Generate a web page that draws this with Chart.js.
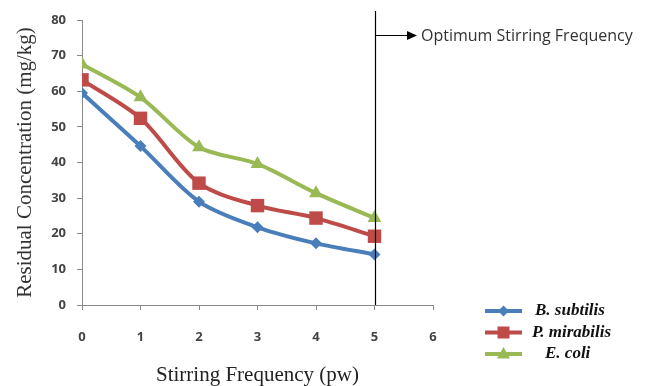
<!DOCTYPE html>
<html>
<head>
<meta charset="utf-8">
<script src="https://cdn.jsdelivr.net/npm/chart.js@4"></script>
<style>
html,body{margin:0;padding:0;background:#fff;}
#wrap{width:651px;height:386px;position:relative;}
</style>
</head>
<body>
<div id="wrap"><canvas id="c" width="651" height="386"></canvas></div>
<script>
const frequencies = [0, 1, 2, 3, 4, 5];
const bSubtilis   = [59.5, 44.6, 29.0, 21.8, 17.3, 14.2];
const pMirabilis  = [63.2, 52.4, 34.2, 27.9, 24.4, 19.3];
const eColi       = [67.6, 58.3, 44.3, 39.6, 31.4, 24.4];
const seriesNames = ['B. subtilis', 'P. mirabilis', 'E. coli'];
const yTicks = [0, 10, 20, 30, 40, 50, 60, 70, 80];
const xTicks = [0, 1, 2, 3, 4, 5, 6];
const optimumX = 5;
const optimumLabel = 'Optimum Stirring Frequency';

const colors = ['#4A7EBB', '#BE4B48', '#98B954'];
const styles = ['rectRot', 'rect', 'triangle'];
const radii = [6, 9.5, 8];

function pts(arr){ return frequencies.map((f,i)=>({x:f,y:arr[i]})); }

const seriesData = [bSubtilis, pMirabilis, eColi];

const overlay = {
  id:'overlay',
  afterDatasetsDraw(chart){
    const ctx = chart.ctx;
    const xs = chart.scales.x;
    const ca = chart.chartArea;
    const px = Math.round(xs.getPixelForValue(optimumX)) + 0.5;
    ctx.save();
    ctx.strokeStyle = '#000';
    ctx.lineWidth = 1.2;
    ctx.beginPath();
    ctx.moveTo(px, 11);
    ctx.lineTo(px, ca.bottom);
    ctx.stroke();
    // arrow
    ctx.beginPath();
    ctx.moveTo(px, 35.5);
    ctx.lineTo(409, 35.5);
    ctx.stroke();
    ctx.fillStyle = '#000';
    ctx.beginPath();
    ctx.moveTo(417, 35.5);
    ctx.lineTo(407, 31);
    ctx.lineTo(407, 40);
    ctx.closePath();
    ctx.fill();
    ctx.fillStyle = '#333';
    ctx.font = '16px "Open Sans", sans-serif';
    ctx.textBaseline = 'middle';
    ctx.textAlign = 'left';
    ctx.fillText(optimumLabel, 421, 36);
    // legend
    const ly = [311, 332.5, 354];
    const tx = [535, 532, 545];
    for (let i=0;i<3;i++){
      ctx.strokeStyle = colors[i];
      ctx.lineWidth = 4;
      ctx.beginPath();
      ctx.moveTo(485, ly[i]);
      ctx.lineTo(522, ly[i]);
      ctx.stroke();
      ctx.fillStyle = colors[i];
      const cx = 503.5, cy = ly[i];
      ctx.beginPath();
      if (i===0){ ctx.moveTo(cx,cy-5.5);ctx.lineTo(cx+5.5,cy);ctx.lineTo(cx,cy+5.5);ctx.lineTo(cx-5.5,cy); }
      else if (i===1){ ctx.rect(cx-6,cy-6,12,12); }
      else { ctx.moveTo(cx,cy-7);ctx.lineTo(cx+6.5,cy+4.5);ctx.lineTo(cx-6.5,cy+4.5); }
      ctx.closePath(); ctx.fill();
      ctx.fillStyle = '#111';
      ctx.font = 'italic bold 17px "Liberation Serif", serif';
      ctx.textBaseline = 'middle';
      ctx.fillText(seriesNames[i], tx[i], ly[i]);
    }
    ctx.restore();
  }
};

new Chart(document.getElementById('c'), {
  type:'line',
  data:{
    datasets: seriesData.map((d,i)=>({
      label: seriesNames[i],
      data: pts(d),
      borderColor: colors[i],
      backgroundColor: colors[i],
      borderWidth: 4,
      pointStyle: styles[i],
      pointRadius: radii[i],
      pointHoverRadius: radii[i],
      pointBorderWidth: 0,
      tension: 0.3,
      cubicInterpolationMode: 'default',
      fill:false
    }))
  },
  options:{
    responsive:false,
    animation:false,
    events:[],
    layout:{padding:{top:20,right:218,left:0,bottom:0}},
    plugins:{legend:{display:false},tooltip:{enabled:false}},
    scales:{
      x:{
        type:'linear', min:0, max:6,
        afterBuildTicks(s){ s.ticks = xTicks.map(v=>({value:v})); },
        afterFit(s){ s.height = 81; },
        grid:{display:true, drawOnChartArea:false, drawTicks:true, tickLength:5, color:'#8a8a8a'},
        border:{color:'#8a8a8a', width:1},
        ticks:{color:'#444', font:{family:'"Open Sans", sans-serif', size:13, weight:'bold'}, padding:19},
        title:{display:true, text:'Stirring Frequency (pw)', color:'#222', font:{family:'"Liberation Serif", serif', size:21, lineHeight:1}, padding:{top:0,bottom:0}}
      },
      y:{
        min:0, max:80,
        afterBuildTicks(s){ s.ticks = yTicks.map(v=>({value:v})); },
        afterFit(s){ s.width = 82; },
        grid:{display:true, drawOnChartArea:false, drawTicks:true, tickLength:5, color:'#8a8a8a'},
        border:{color:'#8a8a8a', width:1},
        ticks:{color:'#444', font:{family:'"Open Sans", sans-serif', size:13, weight:'bold'}, padding:11},
        title:{display:true, text:'Residual Concentration (mg/kg)', color:'#333', font:{family:'"Liberation Serif", serif', size:21, lineHeight:1}, padding:{top:15,bottom:0}}
      }
    }
  },
  plugins:[overlay]
});
</script>
</body>
</html>
